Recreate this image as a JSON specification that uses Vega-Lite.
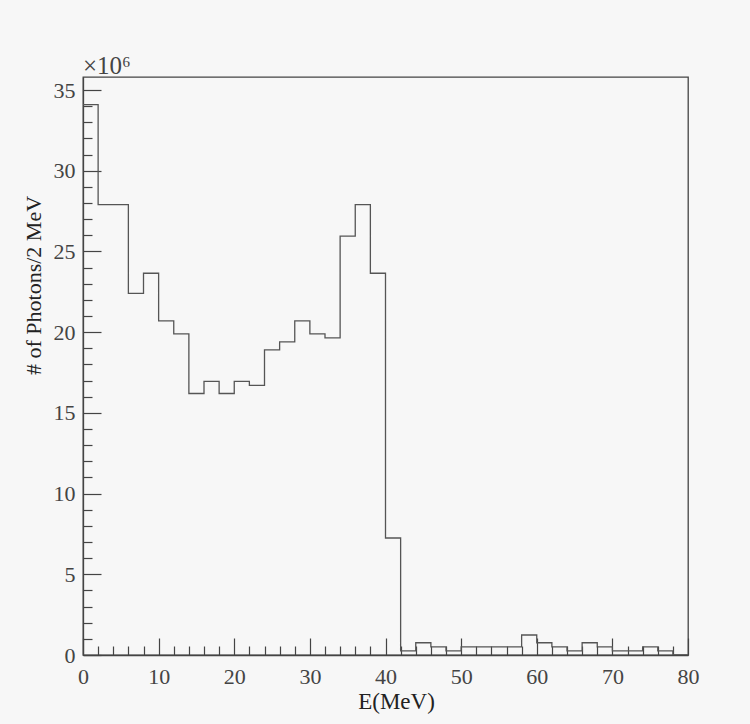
{
  "$schema": "https://vega.github.io/schema/vega-lite/v6.json",
  "width": 605,
  "height": 578,
  "autosize": {"type": "none"},
  "padding": {"left": 83, "top": 77, "right": 62, "bottom": 69},
  "background": "#f7f7f7",
  "config": {"view": {"stroke": "#444", "strokeWidth": 1.3}},
  "title": {"text": "×10⁶", "anchor": "start", "frame": "group", "font": "Liberation Serif", "fontSize": 25, "fontWeight": "normal", "color": "#444", "baseline": "alphabetic", "offset": 4, "dy": 26},
  "data": {"values": [
    {"e": 0, "n": 34.1}, {"e": 2, "n": 27.9}, {"e": 4, "n": 27.9}, {"e": 6, "n": 22.4},
    {"e": 8, "n": 23.65}, {"e": 10, "n": 20.7}, {"e": 12, "n": 19.9}, {"e": 14, "n": 16.2},
    {"e": 16, "n": 16.95}, {"e": 18, "n": 16.2}, {"e": 20, "n": 16.95}, {"e": 22, "n": 16.7},
    {"e": 24, "n": 18.9}, {"e": 26, "n": 19.4}, {"e": 28, "n": 20.7}, {"e": 30, "n": 19.9},
    {"e": 32, "n": 19.65}, {"e": 34, "n": 25.95}, {"e": 36, "n": 27.9}, {"e": 38, "n": 23.65},
    {"e": 40, "n": 7.25}, {"e": 42, "n": 0.26}, {"e": 44, "n": 0.76}, {"e": 46, "n": 0.5},
    {"e": 48, "n": 0.26}, {"e": 50, "n": 0.5}, {"e": 52, "n": 0.5}, {"e": 54, "n": 0.5},
    {"e": 56, "n": 0.5}, {"e": 58, "n": 1.24}, {"e": 60, "n": 0.76}, {"e": 62, "n": 0.5},
    {"e": 64, "n": 0.26}, {"e": 66, "n": 0.76}, {"e": 68, "n": 0.5}, {"e": 70, "n": 0.26},
    {"e": 72, "n": 0.26}, {"e": 74, "n": 0.5}, {"e": 76, "n": 0.26}, {"e": 78, "n": 0},
    {"e": 80, "n": 0}
  ]},
  "mark": {"type": "line", "interpolate": "step-after", "stroke": "#555", "strokeWidth": 1.3, "clip": true},
  "encoding": {
    "x": {
      "field": "e", "type": "quantitative",
      "scale": {"domain": [0, 80], "nice": false, "zero": false},
      "axis": {
        "title": "E(MeV)",
        "values": [0,2,4,6,8,10,12,14,16,18,20,22,24,26,28,30,32,34,36,38,40,42,44,46,48,50,52,54,56,58,60,62,64,66,68,70,72,74,76,78,80],
        "labelExpr": "datum.value % 10 === 0 ? datum.label : ''",
        "tickSize": {"condition": {"test": "datum.value % 10 === 0", "value": -17}, "value": -9},
        "tickColor": "#444", "tickWidth": 1.2,
        "domainColor": "#444", "domainWidth": 1.3,
        "grid": false,
        "labelFont": "Liberation Serif", "labelFontSize": 22, "labelColor": "#444",
        "labelPadding": 28, "labelBaseline": "top", "labelAlign": "center",
        "labelOverlap": false, "labelFlush": false, "labelBound": false,
        "titleFont": "Liberation Serif", "titleFontSize": 23, "titleFontWeight": "normal", "titleColor": "#222",
        "titleX": 313, "titleY": 53, "titleBaseline": "alphabetic", "titleAlign": "center"
      }
    },
    "y": {
      "field": "n", "type": "quantitative",
      "scale": {"domain": [0, 35.81], "nice": false, "zero": true},
      "axis": {
        "title": "# of Photons/2 MeV",
        "values": [0,1,2,3,4,5,6,7,8,9,10,11,12,13,14,15,16,17,18,19,20,21,22,23,24,25,26,27,28,29,30,31,32,33,34,35],
        "labelExpr": "datum.value % 5 === 0 ? datum.label : ''",
        "tickSize": {"condition": {"test": "datum.value % 5 === 0", "value": -18}, "value": -9},
        "tickColor": "#444", "tickWidth": 1.2,
        "domainColor": "#444", "domainWidth": 1.3,
        "grid": false,
        "labelFont": "Liberation Serif", "labelFontSize": 22, "labelColor": "#444",
        "labelPadding": 26, "labelBaseline": "middle", "labelAlign": "right",
        "labelOverlap": false, "labelFlush": false, "labelBound": false,
        "titleFont": "Liberation Serif", "titleFontSize": 22, "titleFontWeight": "normal", "titleColor": "#222",
        "titleAngle": 270, "titleX": -43, "titleY": 208, "titleBaseline": "alphabetic", "titleAlign": "center"
      }
    }
  }
}
